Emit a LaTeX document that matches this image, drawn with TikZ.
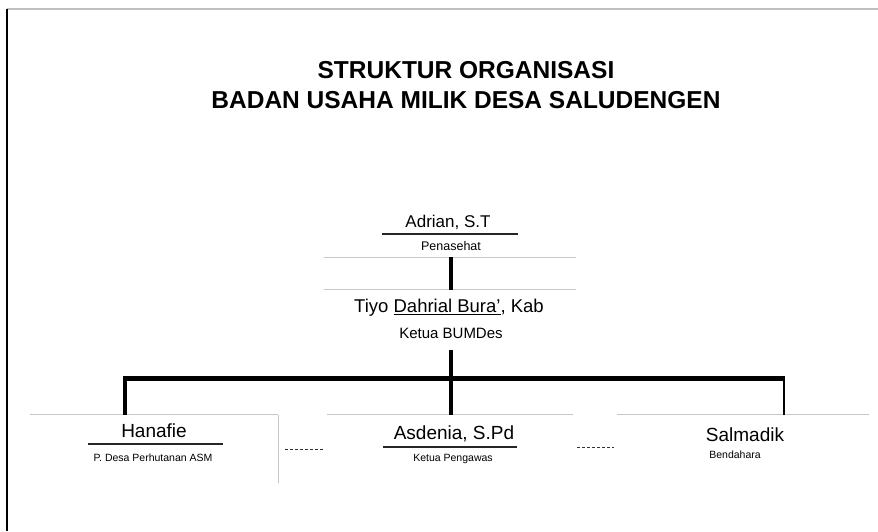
\documentclass[tikz,border=0pt]{standalone}
\usepackage{fontspec}
\setmainfont{Liberation Sans}
\begin{document}
\begin{tikzpicture}[x=1pt,y=-1pt,
  boxarea/.style={minimum width=248pt,minimum height=56pt,inner sep=0pt},
  nmtext/.style={font=\fontsize{19}{21}\selectfont,inner sep=0pt},
  smtext/.style={font=\fontsize{10.5}{12}\selectfont,inner sep=0pt},
  boxedge/.style={draw=black!22,line width=0.8pt},
  uline/.style={draw=black!85,line width=1.6pt},
  thickconn/.style={line width=4pt},
  dotconn/.style={densely dashed,line width=1pt,draw=black!80}]
\useasboundingbox (0,0) rectangle (878,531);
\fill[white] (0,0) rectangle (878,531);
% page frame
\coordinate (fTL) at (7,9);
\coordinate (fTR) at (878,9);
\coordinate (fBL) at (7,531);
\draw[black!25,line width=1.5pt] (fTL) -- (fTR);
\draw[black,line width=1.5pt] (fTL) -- (fBL);
% title
\node[font=\fontsize{24.5}{30}\selectfont\bfseries,align=center] (title) at (466,85)
  {STRUKTUR ORGANISASI\\BADAN USAHA MILIK DESA SALUDENGEN};
% box areas
\node[boxarea,minimum width=252pt] (b1) at (450,229) {};
\node[boxarea,minimum width=252pt,minimum height=60pt] (b2) at (450,320) {};
\node[boxarea] (b3) at (154,443) {};
\node[boxarea,minimum width=246pt] (b4) at (450,443) {};
\node[boxarea,minimum width=252pt] (b5) at (743,443) {};
% faint box edges
\draw[boxedge] (b1.south west) -- (b1.south east);
\draw[boxedge] (b2.north west) -- (b2.north east);
\draw[boxedge] (b3.north west) -- (b3.north east);
\draw[boxedge] (b3.north east) -- ([yshift=-12pt]b3.south east);
\draw[boxedge] (b4.north west) -- (b4.north east);
\draw[boxedge] (b5.north west) -- (b5.north east);
% texts box 1
\node[nmtext,font=\fontsize{17}{19}\selectfont] (n1) at (448,222) {Adrian, S.T};
\coordinate (u1a) at (382,234);
\coordinate (u1b) at (518,234);
\draw[uline] (u1a) -- (u1b);
\node[font=\fontsize{12.5}{14}\selectfont,inner sep=0pt] (r1) at (451,246) {Penasehat};
% texts box 2
\node[font=\fontsize{18.5}{21}\selectfont,inner sep=0pt] (n2) at (449,308) {Tiyo \underline{Dahrial Bura'}, Kab};
\node[font=\fontsize{15}{17}\selectfont,inner sep=0pt] (r2) at (451,333) {Ketua BUMDes};
% texts box 3
\node[nmtext] (n3) at (154,431) {Hanafie};
\coordinate (u3a) at (88,444);
\coordinate (u3b) at (223,444);
\draw[uline] (u3a) -- (u3b);
\node[smtext] (r3) at (153,458) {P. Desa Perhutanan ASM};
% texts box 4
\node[nmtext] (n4) at (454,434) {Asdenia, S.Pd};
\coordinate (u4a) at (383,447);
\coordinate (u4b) at (517,447);
\draw[uline] (u4a) -- (u4b);
\node[smtext] (r4) at (453,459) {Ketua Pengawas};
% texts box 5
\node[nmtext] (n5) at (745,435) {Salmadik};
\node[smtext] (r5) at (735,455) {Bendahara};
% connectors
\coordinate (bar) at (451,378);
\coordinate (barL) at (125,378);
\coordinate (barR) at (784,378);
\draw[thickconn] (b1.south -| bar) -- (b2.north -| bar);
\draw[thickconn] (b2.south -| bar) -- (b4.north -| bar);
\draw[line width=5pt] ([xshift=-2pt]barL) -- ([xshift=1pt]barR);
\draw[thickconn] ([yshift=-2pt]barL) -- (b3.north -| barL);
\draw[line width=2pt] (barR) -- (b5.north -| barR);
\coordinate (d1) at (0,449);
\coordinate (d2) at (0,447);
\draw[dotconn] ([xshift=7pt]b3.east |- d1) -- ([xshift=-2pt]b4.west |- d1);
\draw[dotconn] ([xshift=4pt]b4.east |- d2) -- ([xshift=-3pt]b5.west |- d2);
\end{tikzpicture}
\end{document}
